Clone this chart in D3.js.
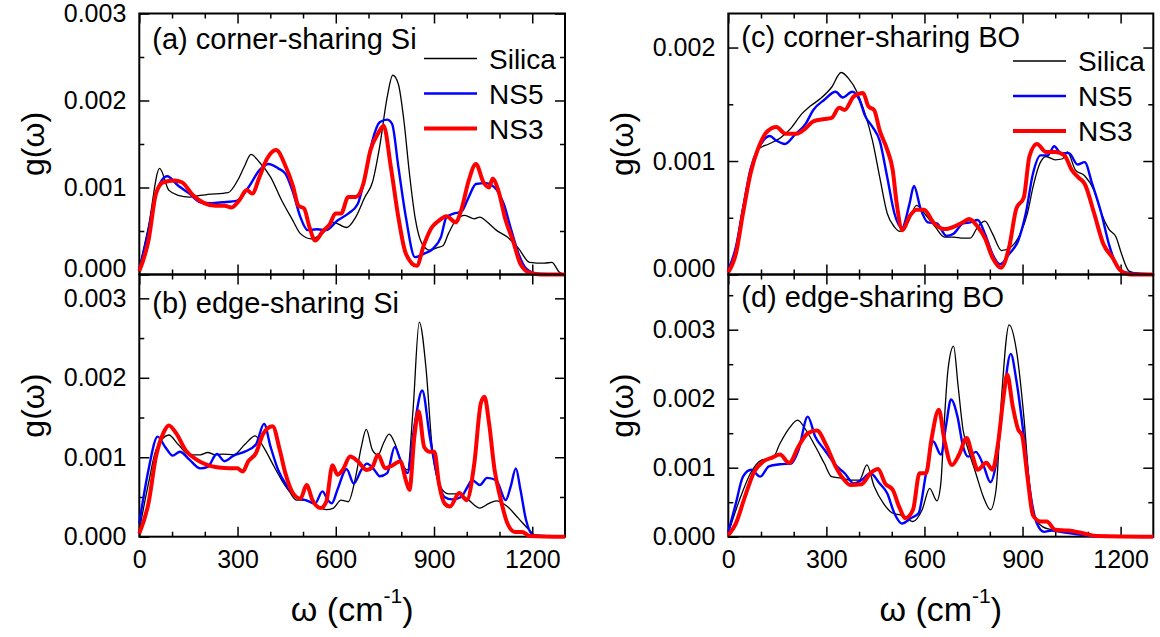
<!DOCTYPE html>
<html lang="en">
<head>
<meta charset="UTF-8">
<title>g(w) corner / edge sharing</title>
<style>
  body { margin: 0; background: #fff; }
  svg { display: block; font-family: "Liberation Sans", Arial, sans-serif; }
</style>
</head>
<body>
<div id="chart"></div>
<script src="https://d3js.org/d3.v7.min.js"></script>
<script>
// ---- data: [omega (cm-1), g(omega)] ----
const seriesNames = ["Silica", "NS5", "NS3"];

// (a) corner-sharing Si
const aSilica = [[0,0.00008],[28,0.00055],[62,0.00122],[90,0.00097],[119,0.00091],[153,0.00089],[186,0.00091],[209,0.00092],[271,0.00094],[300,0.00108],[322,0.00125],[341,0.00138],[367,0.00129],[401,0.00112],[435,0.00085],[469,0.00062],[492,0.00047],[525,0.00041],[559,0.00047],[593,0.0006],[633,0.00054],[661,0.00066],[689,0.00089],[712,0.00106],[734,0.00147],[757,0.00204],[774,0.00229],[791,0.00219],[808,0.00177],[825,0.00116],[842,0.00066],[864,0.00035],[887,0.00028],[910,0.00031],[927,0.00033],[944,0.00047],[966,0.00062],[994,0.00068],[1023,0.00064],[1040,0.00066],[1057,0.00062],[1090,0.00051],[1124,0.00043],[1158,0.0003],[1192,0.00014],[1237,0.00013],[1260,0.00014],[1282,0.00003],[1300,0]];
const aNS5 = [[0,0.00005],[25,0.00045],[51,0.00093],[85,0.00113],[119,0.00102],[153,0.00093],[186,0.00083],[220,0.00082],[254,0.00083],[299,0.00085],[333,0.001],[367,0.0012],[395,0.00127],[424,0.00122],[446,0.00116],[469,0.00095],[492,0.00066],[514,0.00051],[542,0.00052],[571,0.00051],[605,0.00062],[638,0.0007],[667,0.00081],[689,0.00112],[712,0.00154],[734,0.00175],[757,0.00178],[772,0.00173],[791,0.00124],[814,0.00066],[842,0.0002],[870,0.00024],[898,0.0003],[921,0.00043],[938,0.00066],[960,0.0007],[983,0.00072],[1006,0.00089],[1028,0.00104],[1057,0.00105],[1085,0.001],[1113,0.00081],[1136,0.00051],[1158,0.00024],[1181,0.00007],[1215,0.00001],[1300,0]];
const aNS3 = [[0,0.00004],[28,0.00039],[51,0.00093],[73,0.00106],[107,0.00108],[130,0.00106],[164,0.00091],[198,0.00082],[232,0.00079],[260,0.00079],[282,0.00077],[305,0.00085],[328,0.00097],[345,0.00093],[367,0.00112],[390,0.00133],[418,0.00143],[446,0.00125],[469,0.00102],[486,0.00079],[503,0.00076],[520,0.00054],[537,0.00039],[559,0.00049],[582,0.00058],[599,0.0007],[616,0.0007],[638,0.00089],[661,0.00089],[684,0.00104],[706,0.00143],[729,0.00162],[746,0.00171],[768,0.00124],[791,0.00066],[814,0.00024],[847,0.0001],[870,0.00035],[893,0.00054],[915,0.00062],[938,0.00067],[966,0.0006],[983,0.00074],[1006,0.00108],[1028,0.00127],[1051,0.00106],[1068,0.001],[1079,0.0011],[1096,0.00097],[1119,0.00062],[1141,0.00039],[1164,0.00012],[1192,0.00002],[1226,0],[1300,0]];

// (b) edge-sharing Si
const bSilica = [[0,0.00008],[28,0.00067],[51,0.00109],[90,0.00128],[119,0.00116],[153,0.00103],[186,0.00103],[209,0.00106],[232,0.00103],[254,0.00104],[288,0.00103],[322,0.00116],[354,0.00127],[379,0.00113],[412,0.00088],[435,0.00071],[458,0.00057],[480,0.00046],[503,0.00046],[537,0.0004],[571,0.00034],[593,0.00036],[616,0.00046],[638,0.00044],[661,0.00076],[678,0.00113],[693,0.00135],[712,0.00109],[729,0.00103],[746,0.00118],[763,0.00129],[780,0.00118],[802,0.00092],[819,0.00084],[836,0.0016],[855,0.0027],[876,0.0021],[893,0.00118],[915,0.00067],[944,0.00054],[977,0.00054],[1006,0.00046],[1040,0.00036],[1068,0.00042],[1090,0.00045],[1124,0.00038],[1158,0.00023],[1192,0.00008],[1215,0],[1300,0]];
const bNS5 = [[0,0.00017],[28,0.00084],[56,0.00126],[79,0.00113],[102,0.00102],[124,0.00107],[153,0.00097],[186,0.00086],[209,0.00088],[237,0.00104],[260,0.00095],[288,0.00102],[322,0.00107],[356,0.00116],[381,0.00142],[401,0.00113],[424,0.00084],[452,0.00063],[480,0.0005],[508,0.00046],[537,0.00042],[559,0.00057],[576,0.00046],[588,0.00042],[605,0.00059],[633,0.00085],[655,0.00067],[678,0.00084],[695,0.00092],[718,0.00084],[734,0.00076],[757,0.0008],[780,0.00113],[797,0.00097],[819,0.0008],[840,0.00139],[864,0.00184],[887,0.00126],[910,0.00076],[932,0.0005],[955,0.00047],[983,0.0005],[1000,0.00061],[1017,0.00071],[1040,0.00065],[1062,0.00074],[1090,0.00071],[1119,0.00046],[1134,0.00063],[1150,0.00086],[1164,0.00059],[1181,0.00021],[1203,0.00002],[1300,0]];
const bNS3 = [[0,0.00004],[28,0.00042],[51,0.00101],[73,0.0013],[90,0.0014],[113,0.0013],[141,0.00109],[175,0.00097],[209,0.0009],[243,0.00087],[277,0.00086],[299,0.00086],[316,0.00082],[333,0.00095],[356,0.00105],[379,0.0013],[407,0.00139],[429,0.00109],[446,0.0008],[469,0.00055],[492,0.00048],[511,0.00065],[529,0.00046],[554,0.00036],[571,0.00044],[590,0.0009],[605,0.00078],[621,0.00084],[644,0.00101],[667,0.00095],[695,0.00084],[712,0.00088],[729,0.00103],[751,0.00086],[774,0.0009],[797,0.00095],[814,0.00071],[825,0.00059],[840,0.00126],[853,0.00158],[870,0.00113],[887,0.00107],[901,0.00107],[915,0.00067],[932,0.00042],[949,0.00038],[977,0.00055],[1000,0.00046],[1023,0.00092],[1043,0.00168],[1054,0.00176],[1068,0.00143],[1085,0.00084],[1102,0.0005],[1124,0.00017],[1147,0.00006],[1169,0.00006],[1192,0.00001],[1300,0]];

// (c) corner-sharing BO
const cSilica = [[0,0.00004],[23,0.00024],[45,0.0006],[68,0.00092],[90,0.0011],[124,0.00115],[158,0.0012],[192,0.00129],[226,0.00142],[249,0.00148],[282,0.00155],[316,0.00165],[345,0.00178],[367,0.00173],[395,0.0016],[418,0.00142],[441,0.00118],[463,0.00086],[486,0.00054],[508,0.00042],[525,0.00038],[548,0.00045],[576,0.00061],[605,0.00052],[633,0.00042],[661,0.00033],[689,0.00033],[718,0.00032],[740,0.00032],[763,0.00042],[785,0.00047],[808,0.00036],[836,0.00021],[864,0.00024],[893,0.00036],[915,0.00054],[932,0.00077],[949,0.00095],[972,0.00104],[1000,0.00101],[1023,0.00102],[1037,0.00108],[1062,0.00092],[1090,0.00087],[1119,0.00074],[1141,0.00054],[1164,0.0004],[1186,0.00033],[1203,0.00018],[1226,0.00003],[1254,0.00001],[1300,0]];
const cNS5 = [[0,0.00004],[23,0.00024],[45,0.00058],[68,0.00093],[96,0.00113],[127,0.00122],[147,0.00118],[173,0.00115],[203,0.00123],[237,0.00133],[260,0.00145],[294,0.00154],[328,0.00161],[350,0.00156],[379,0.00161],[401,0.00154],[418,0.0014],[441,0.0013],[463,0.00118],[486,0.00086],[508,0.00054],[531,0.00041],[554,0.00062],[568,0.00078],[588,0.00058],[610,0.00046],[638,0.00045],[667,0.00034],[689,0.00036],[718,0.00045],[740,0.00046],[763,0.00048],[785,0.00036],[808,0.00018],[831,0.00009],[859,0.00018],[887,0.0003],[910,0.00054],[932,0.00089],[955,0.00105],[977,0.00105],[997,0.00113],[1017,0.00107],[1042,0.00107],[1068,0.00097],[1090,0.00099],[1113,0.0008],[1141,0.00054],[1164,0.00027],[1186,0.00009],[1209,0.00002],[1300,0]];
const cNS3 = [[0,0.00002],[23,0.00018],[45,0.00054],[68,0.00089],[90,0.0011],[119,0.00126],[147,0.0013],[175,0.00124],[209,0.00124],[237,0.00129],[260,0.00135],[294,0.00137],[316,0.00138],[339,0.00147],[356,0.00145],[384,0.00157],[412,0.0016],[429,0.00148],[446,0.00145],[463,0.00127],[486,0.0011],[503,0.00092],[514,0.00065],[533,0.00039],[554,0.00051],[576,0.00057],[599,0.00057],[627,0.00046],[661,0.0004],[689,0.00042],[718,0.00046],[737,0.00049],[763,0.00042],[785,0.00032],[808,0.00015],[834,0.00006],[859,0.00024],[881,0.00058],[904,0.00068],[921,0.00104],[944,0.00115],[972,0.00108],[1000,0.00108],[1028,0.00105],[1051,0.00092],[1073,0.00085],[1090,0.0008],[1119,0.00054],[1147,0.00027],[1175,0.00015],[1198,0.00004],[1232,0],[1300,0]];

// (d) edge-sharing BO
const dSilica = [[0,0.00005],[34,0.00053],[68,0.00092],[102,0.00111],[136,0.00114],[158,0.00135],[186,0.00157],[212,0.00169],[237,0.00155],[266,0.00131],[294,0.00106],[316,0.00087],[345,0.00085],[373,0.00082],[401,0.00082],[424,0.00104],[446,0.00073],[475,0.00048],[503,0.00034],[531,0.00031],[565,0.00022],[593,0.00039],[616,0.0007],[638,0.00052],[650,0.00077],[661,0.00169],[672,0.00242],[689,0.00276],[703,0.00218],[718,0.00155],[734,0.00126],[757,0.00092],[780,0.00058],[802,0.00039],[819,0.00068],[836,0.00203],[859,0.00307],[881,0.00271],[904,0.00174],[921,0.00077],[938,0.00029],[960,0.00015],[989,0.0001],[1017,0.00007],[1073,0.00004],[1130,0.00001],[1300,0]];
const dNS5 = [[0,0.00007],[23,0.00048],[45,0.00087],[70,0.00097],[98,0.00087],[124,0.00102],[158,0.00105],[192,0.00106],[215,0.00126],[243,0.00174],[266,0.00145],[294,0.00126],[328,0.00104],[356,0.00092],[384,0.00077],[407,0.00082],[435,0.00092],[463,0.00077],[486,0.00063],[508,0.00034],[531,0.00019],[559,0.00027],[582,0.00034],[605,0.00092],[627,0.00138],[650,0.00119],[667,0.00164],[681,0.00199],[701,0.00174],[718,0.00131],[734,0.00116],[757,0.00123],[780,0.00104],[802,0.00079],[819,0.00106],[842,0.00203],[864,0.00265],[881,0.00227],[904,0.00145],[921,0.00073],[944,0.00019],[966,0.00007],[989,0.00009],[1017,0.00007],[1073,0.00003],[1153,0],[1300,0]];
const dNS3 = [[0,0.00002],[23,0.00019],[51,0.00058],[79,0.00094],[107,0.00109],[136,0.00115],[158,0.00119],[186,0.00107],[215,0.00131],[243,0.0015],[271,0.00154],[299,0.00133],[328,0.00102],[350,0.00085],[373,0.00075],[407,0.00076],[435,0.00092],[458,0.00098],[480,0.00077],[503,0.00068],[522,0.00044],[542,0.00027],[565,0.00039],[585,0.00092],[605,0.00092],[621,0.0014],[644,0.00184],[661,0.0014],[684,0.00104],[706,0.00119],[729,0.00143],[746,0.00119],[763,0.00097],[789,0.00107],[808,0.00097],[825,0.00135],[842,0.00203],[853,0.00235],[870,0.00189],[887,0.00155],[898,0.00148],[915,0.00087],[932,0.00031],[955,0.00022],[974,0.00022],[1000,0.0001],[1040,0.00009],[1085,0.00005],[1130,0.00001],[1300,0]];

const panelLabels = ["(a) corner-sharing Si", "(b) edge-sharing Si", "(c) corner-sharing BO", "(d) edge-sharing BO"];
const yMax = [0.003, 0.0033, 0.0023, 0.0038];
const yMajor = [[0, 0.001, 0.002, 0.003], [0, 0.001, 0.002, 0.003], [0, 0.001, 0.002], [0, 0.001, 0.002, 0.003]];
const yMinor = [[0.0005, 0.0015, 0.0025], [0.0005, 0.0015, 0.0025], [0.0005, 0.0015], [0.0005, 0.0015, 0.0025, 0.0035]];
const xMajor = [0, 300, 600, 900, 1200];
const xMinor = [100, 200, 400, 500, 700, 800, 1000, 1100];

// ---- layout ----
const width = 1160, height = 637;
const colors = ["#000000", "#0000ff", "#ff0000"];
const widths = [1.3, 2.4, 4];

const svg = d3.select("#chart").append("svg")
    .attr("width", width)
    .attr("height", height);

const panels = [
    {data: [aSilica, aNS5, aNS3], x0: 139.3, x1: 565, y0: 13.5, y1: 274.5, xLabels: false, labelY: 48.5, legend: {x: 424, y: 58.5}},
    {data: [bSilica, bNS5, bNS3], x0: 139.3, x1: 565, y0: 274.5, y1: 536.7, xLabels: true, labelY: 312.5},
    {data: [cSilica, cNS5, cNS3], x0: 728.3, x1: 1153.3, y0: 13.5, y1: 274.5, xLabels: false, labelY: 46.5, legend: {x: 1013, y: 61}},
    {data: [dSilica, dNS5, dNS3], x0: 728.3, x1: 1153.3, y0: 274.5, y1: 536.7, xLabels: true, labelY: 306.5}
];

panels.forEach(function(p, i) {
    const x = d3.scaleLinear().domain([0, 1300]).range([p.x0, p.x1]);
    const y = d3.scaleLinear().domain([0, yMax[i]]).range([p.y1, p.y0]);
    const g = svg.append("g");

    function addAxis(axis, tx, ty, showLabels) {
        const a = g.append("g")
            .attr("transform", `translate(${tx},${ty})`)
            .call(axis);
        a.select(".domain").remove();
        a.selectAll("line").attr("stroke", "#000").attr("stroke-width", 1.5);
        a.selectAll("text")
            .attr("fill", "#000")
            .style("font-size", "25px")
            .style("font-family", "'Liberation Sans', Arial, sans-serif");
        if (!showLabels) a.selectAll("text").remove();
        return a;
    }

    // x ticks (bottom / top), pointing inwards
    addAxis(d3.axisBottom(x).tickValues(xMajor).tickSizeInner(-10).tickSizeOuter(0).tickPadding(14).tickFormat(d3.format("d")), 0, p.y1, p.xLabels);
    addAxis(d3.axisBottom(x).tickValues(xMinor).tickSizeInner(-5).tickSizeOuter(0).tickFormat(""), 0, p.y1, false);
    addAxis(d3.axisTop(x).tickValues(xMajor).tickSizeInner(-10).tickSizeOuter(0), 0, p.y0, false);
    addAxis(d3.axisTop(x).tickValues(xMinor).tickSizeInner(-5).tickSizeOuter(0), 0, p.y0, false);

    // y ticks (left / right)
    const yl = addAxis(d3.axisLeft(y).tickValues(yMajor[i]).tickSizeInner(-10).tickSizeOuter(0).tickPadding(13).tickFormat(d3.format(".3f")), p.x0, 0, true);
    if (!p.xLabels) {
        // bottom label of the upper panels sits a little higher
        yl.selectAll(".tick").filter(d => d === 0).select("text").attr("y", -6);
    }
    addAxis(d3.axisLeft(y).tickValues(yMinor[i]).tickSizeInner(-5).tickSizeOuter(0), p.x0, 0, false);
    addAxis(d3.axisRight(y).tickValues(yMajor[i]).tickSizeInner(-10).tickSizeOuter(0), p.x1, 0, false);
    addAxis(d3.axisRight(y).tickValues(yMinor[i]).tickSizeInner(-5).tickSizeOuter(0), p.x1, 0, false);

    // frame
    g.append("rect")
        .attr("x", p.x0).attr("y", p.y0)
        .attr("width", p.x1 - p.x0).attr("height", p.y1 - p.y0)
        .attr("fill", "none").attr("stroke", "#000").attr("stroke-width", 2);

    // curves
    const line = d3.line()
        .x(d => x(d[0]))
        .y(d => y(d[1]))
        .curve(d3.curveMonotoneX);

    p.data.forEach(function(s, k) {
        g.append("path")
            .datum(s)
            .attr("d", line)
            .attr("fill", "none")
            .attr("stroke", colors[k])
            .attr("stroke-width", widths[k])
            .attr("stroke-linejoin", "round");
    });

    // panel label
    g.append("text")
        .attr("x", p.x0 + 13)
        .attr("y", p.labelY)
        .style("font-size", "29px")
        .text(panelLabels[i]);

    // y title
    const cy = (p.y0 + p.y1) / 2;
    const tx = p.x0 - 106;
    g.append("text")
        .attr("transform", `translate(${tx},${cy}) rotate(-90)`)
        .attr("text-anchor", "middle")
        .attr("dominant-baseline", "central")
        .style("font-size", "32px")
        .text("g(ω)");

    // legend
    if (p.legend) {
        seriesNames.forEach(function(name, k) {
            const ly = p.legend.y + k * 35;
            g.append("line")
                .attr("x1", p.legend.x).attr("x2", p.legend.x + 53)
                .attr("y1", ly).attr("y2", ly)
                .attr("stroke", colors[k])
                .attr("stroke-width", widths[k]);
            g.append("text")
                .attr("x", p.legend.x + 65)
                .attr("y", ly + 10)
                .style("font-size", "28px")
                .text(name);
        });
    }

    // x title
    if (p.xLabels) {
        const t = g.append("text")
            .attr("x", (p.x0 + p.x1) / 2)
            .attr("y", 621)
            .attr("text-anchor", "middle")
            .style("font-size", "34px");
        t.append("tspan").text("ω (cm");
        t.append("tspan").attr("dy", -18).style("font-size", "21px").text("-1");
        t.append("tspan").attr("dy", 18).text(")");
    }
});
</script>
</body>
</html>
